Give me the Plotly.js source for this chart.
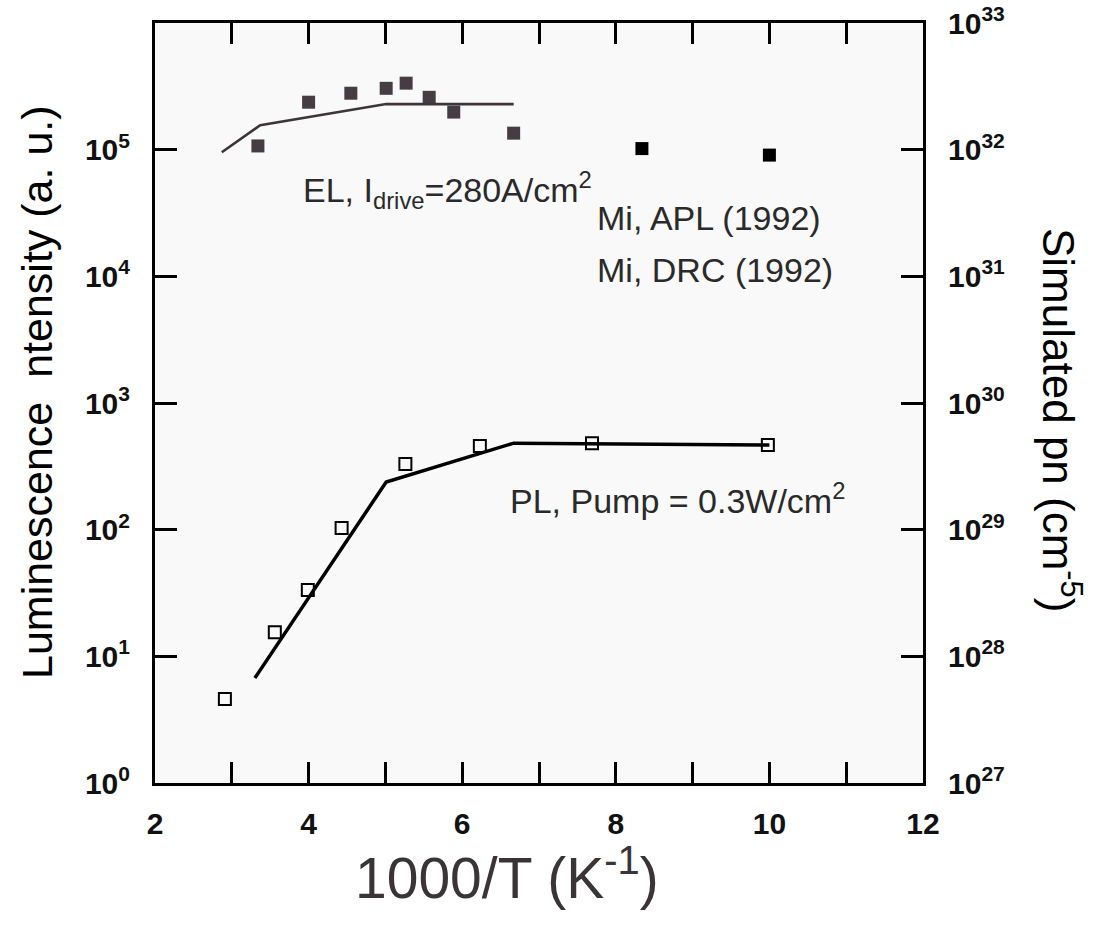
<!DOCTYPE html>
<html>
<head>
<meta charset="utf-8">
<script src="https://cdn.plot.ly/plotly-3.0.1.min.js"></script>
<style>html,body{margin:0;padding:0;background:#fff;}#chart{width:1098px;height:928px;}</style>
</head>
<body>
<div id="chart"></div>
<script>
// ---- data ----
const elX = [3.34, 4.0, 4.55, 5.01, 5.27, 5.57, 5.89, 6.67];
const elY = [1.07e5, 2.37e5, 2.79e5, 3.05e5, 3.35e5, 2.59e5, 1.98e5, 1.35e5];
const miX = [8.34, 10.0];
const miY = [1.02e5, 9.06e4];
const plX = [2.91, 3.56, 3.99, 4.43, 5.26, 6.23, 7.69, 9.98];
const plY = [4.6, 15.5, 33.4, 103, 330, 457, 482, 465];
const simElX = [2.87, 3.37, 5.01, 6.67];
const simElPn = [9.55e31, 1.56e32, 2.29e32, 2.29e32];
const simPlX = [3.30, 5.01, 6.67, 10.0];
const simPlPn = [6.74e27, 2.38e29, 4.82e29, 4.65e29];
const leftTickVals = [1, 10, 100, 1e3, 1e4, 1e5];
const leftTickText = ['10<sup>0</sup>', '10<sup>1</sup>', '10<sup>2</sup>', '10<sup>3</sup>', '10<sup>4</sup>', '10<sup>5</sup>'];
const rightTickVals = [1e27, 1e28, 1e29, 1e30, 1e31, 1e32, 1e33];
const rightTickText = ['10<sup>27</sup>', '10<sup>28</sup>', '10<sup>29</sup>', '10<sup>30</sup>', '10<sup>31</sup>', '10<sup>32</sup>', '10<sup>33</sup>'];
const xTickVals = [2, 4, 6, 8, 10, 12];
const xTickText = ['2', '4', '6', '8', '10', '12'];
const xMinorVals = [3, 5, 7, 9, 11];

const traces = [
  {x: simElX, y: simElPn, yaxis: 'y2', mode: 'lines', line: {color: '#3d3538', width: 2.6}, showlegend: false},
  {x: simPlX, y: simPlPn, yaxis: 'y2', mode: 'lines', line: {color: '#000', width: 3.5}, showlegend: false},
  {x: elX, y: elY, mode: 'markers', marker: {symbol: 'square', size: 13, color: '#453d42'}, showlegend: false},
  {x: miX, y: miY, mode: 'markers', marker: {symbol: 'square', size: 13, color: '#000'}, showlegend: false},
  {x: plX, y: plY, mode: 'markers', marker: {symbol: 'square-open', size: 12, color: '#000', line: {width: 2, color: '#000'}}, showlegend: false}
];

const FAM = 'Liberation Sans, Arial, sans-serif';
const tickFont = {family: FAM, size: 30, weight: 'bold', color: '#111'};
const annFont = {family: FAM, size: 34, color: '#2a2a2a'};

const layout = {
  width: 1098, height: 928,
  margin: {l: 155, r: 175, t: 23, b: 145},
  paper_bgcolor: '#ffffff',
  plot_bgcolor: '#f9f9f9',
  showlegend: false,
  xaxis: {
    range: [2, 12], tickvals: xTickVals, ticktext: xTickText,
    ticks: 'inside', ticklen: 21, tickwidth: 3, tickcolor: '#000',
    minor: {tickvals: xMinorVals, ticks: 'inside', ticklen: 11, tickwidth: 3, tickcolor: '#000', showgrid: false},
    showline: true, linewidth: 3, linecolor: '#000', mirror: 'allticks',
    showgrid: false, zeroline: false, tickfont: tickFont, ticklabelstandoff: 12
  },
  yaxis: {
    type: 'log', range: [0, 6], tickvals: leftTickVals, ticktext: leftTickText,
    ticks: 'inside', ticklen: 22, tickwidth: 3, tickcolor: '#000',
    showline: true, linewidth: 3, linecolor: '#000',
    showgrid: false, zeroline: false, tickfont: tickFont, ticklabelstandoff: 16
  },
  yaxis2: {
    type: 'log', range: [27, 33], tickvals: rightTickVals, ticktext: rightTickText,
    overlaying: 'y', side: 'right',
    ticks: 'inside', ticklen: 22, tickwidth: 3, tickcolor: '#000',
    showline: true, linewidth: 3, linecolor: '#000',
    showgrid: false, zeroline: false, tickfont: tickFont, ticklabelstandoff: 16
  },
  annotations: [
    {xref: 'paper', yref: 'paper', x: (301 - 155) / 768, y: (783 - 190) / 760, xanchor: 'left', yanchor: 'middle', showarrow: false,
     text: 'EL, I<sub>drive</sub>=280A/cm<sup>2</sup>', font: annFont},
    {xref: 'paper', yref: 'paper', x: (595 - 155) / 768, y: (783 - 218) / 760, xanchor: 'left', yanchor: 'middle', showarrow: false,
     text: 'Mi, APL (1992)', font: annFont},
    {xref: 'paper', yref: 'paper', x: (595 - 155) / 768, y: (783 - 270) / 760, xanchor: 'left', yanchor: 'middle', showarrow: false,
     text: 'Mi, DRC (1992)', font: annFont},
    {xref: 'paper', yref: 'paper', x: (508 - 155) / 768, y: (783 - 498) / 760, xanchor: 'left', yanchor: 'middle', showarrow: false,
     text: 'PL, Pump = 0.3W/cm<sup>2</sup>', font: annFont},
    {xref: 'paper', yref: 'paper', x: (507 - 155) / 768, y: (783 - 874) / 760, xanchor: 'center', yanchor: 'middle', showarrow: false,
     text: '1000/T (K<sup>-1</sup>)', font: {family: FAM, size: 57, color: '#3b3437'}},
    {xref: 'paper', yref: 'paper', x: (37 - 155) / 768, y: (783 - 392) / 760, xanchor: 'center', yanchor: 'middle', showarrow: false,
     textangle: -90, text: 'Luminescence\u00A0\u00A0ntensity (a. u.)', font: {family: FAM, size: 43, color: '#000'}},
    {xref: 'paper', yref: 'paper', x: (1062 - 155) / 768, y: (783 - 420) / 760, xanchor: 'center', yanchor: 'middle', showarrow: false,
     textangle: 90, text: 'Simulated pn (cm<sup>-5</sup>)', font: {family: FAM, size: 44, color: '#000'}}
  ]
};

Plotly.newPlot('chart', traces, layout, {displayModeBar: false, staticPlot: true});
</script>
</body>
</html>
